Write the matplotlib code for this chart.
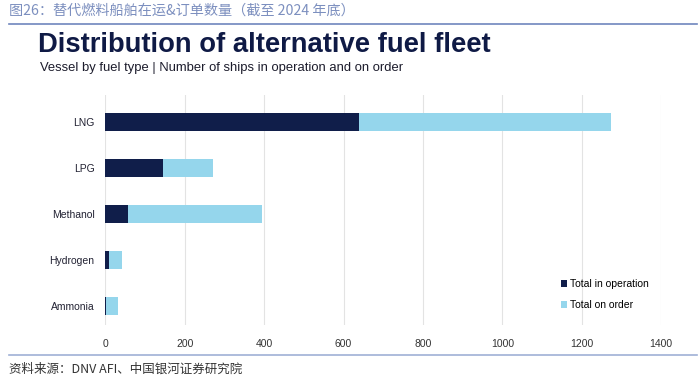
import matplotlib
matplotlib.use('Agg')
import matplotlib.pyplot as plt
from matplotlib.lines import Line2D
import numpy as np

# data
fuels = ['LNG', 'LPG', 'Methanol', 'Hydrogen', 'Ammonia']
in_operation = [640, 145, 56, 9, 2]
on_order = [633, 125, 339, 32, 30]
x_ticks = [0, 200, 400, 600, 800, 1000, 1200, 1400]

navy = '#101e4a'
light = '#95d6ec'
cjk = ['Noto Sans CJK SC', 'DejaVu Sans']

fig = plt.figure(figsize=(7.0, 3.83), dpi=100)
fig.patch.set_facecolor('white')

# header and footer
fig.text(0.013, 0.972, '图26：替代燃料船舶在运&订单数量（截至 2024 年底）',
         family=cjk, fontsize=10.2, color='#7c8fbf', va='center')
fig.add_artist(Line2D([0.013, 0.995], [0.937, 0.937], color='#6f86bd', lw=1.2))
fig.add_artist(Line2D([0.013, 0.995], [0.073, 0.073], color='#9fb0d6', lw=1.2))
fig.text(0.013, 0.036, '资料来源：DNV AFI、中国银河证券研究院',
         family=cjk, fontsize=9, color='#333333', va='center')

# chart titles
fig.text(0.055, 0.882, 'Distribution of alternative fuel fleet', family='Liberation Sans',
         fontsize=19.7, fontweight='bold', color='#0f1a45', va='center')
fig.text(0.057, 0.822, 'Vessel by fuel type | Number of ships in operation and on order',
         family='Liberation Sans', fontsize=9.4, color='#1c1c2c', va='center')

ax = fig.add_axes([0.1507, 0.1514, 0.7936, 0.601])
ypos = np.arange(len(fuels))[::-1]
ax.barh(ypos, in_operation, height=0.4, color=navy, label='Total in operation', zorder=3)
ax.barh(ypos, on_order, left=in_operation, height=0.4, color=light,
        label='Total on order', zorder=3)

ax.set_xlim(0, 1400)
ax.set_ylim(-0.41, 4.59)
ax.set_xticks(x_ticks)
ax.set_xticklabels([str(t) for t in x_ticks], family='Liberation Sans', fontsize=7.5,
                   color='#333333')
ax.set_yticks(ypos)
ax.set_yticklabels(fuels, family='Liberation Sans', fontsize=7.5, color='#222233')
ax.tick_params(axis='both', length=0)
ax.tick_params(axis='x', pad=10)
ax.tick_params(axis='y', pad=8)
ax.grid(axis='x', color='#e3e3e3', lw=0.8, zorder=0)
for s in ax.spines.values():
    s.set_visible(False)

leg = ax.legend(loc='lower right', bbox_to_anchor=(0.995, 0.025), frameon=False,
                prop={'family': 'Liberation Sans', 'size': 7.5}, handlelength=0.6,
                handleheight=0.6, handletextpad=0.3, labelspacing=1.0)

fig.savefig('out.png', dpi=100)
